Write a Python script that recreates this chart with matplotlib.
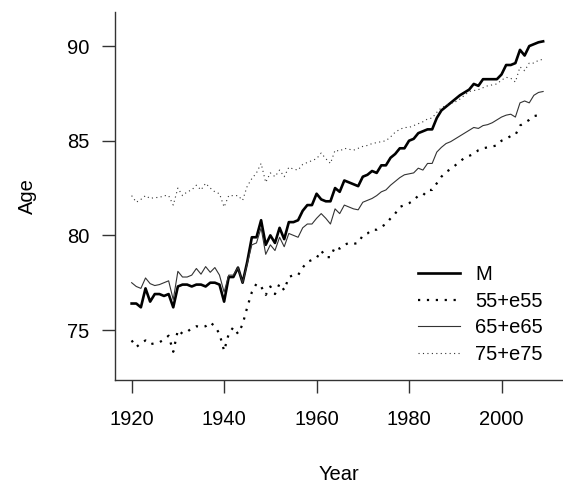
import matplotlib
matplotlib.use("Agg")
import matplotlib.pyplot as plt
import numpy as np

plt.rcParams['font.family'] = ['Liberation Sans', 'DejaVu Sans']

# data, 1920-2009
years = list(range(1920, 2010))

m_age = [76.4, 76.4, 76.2, 77.2, 76.5, 76.9, 76.9, 76.8, 76.9, 76.2,
         77.3, 77.4, 77.4, 77.3, 77.4, 77.4, 77.3, 77.5, 77.5, 77.4,
         76.5, 77.8, 77.8, 78.3, 77.5, 78.6, 79.9, 79.9, 80.8, 79.5,
         80.0, 79.6, 80.4, 79.8, 80.7, 80.7, 80.8, 81.3, 81.6, 81.6,
         82.2, 81.9, 81.8, 81.8, 82.5, 82.3, 82.9, 82.8, 82.7, 82.6,
         83.1, 83.2, 83.4, 83.3, 83.7, 83.7, 84.1, 84.3, 84.6, 84.6,
         85.0, 85.1, 85.4, 85.5, 85.6, 85.6, 86.2, 86.6, 86.8, 87.0,
         87.2, 87.4, 87.55, 87.7, 88.0, 87.9, 88.25, 88.25, 88.25, 88.25,
         88.5, 89.0, 89.0, 89.1, 89.8, 89.5, 90.0, 90.1, 90.2, 90.25]

e55 = [74.45, 74.1, 74.3, 74.45, 74.25, 74.3, 74.35, 74.5, 74.7, 73.85,
       75.0, 74.8, 74.9, 75.1, 75.2, 75.15, 75.2, 75.4, 75.2, 74.8,
       73.9, 74.8, 75.15, 74.8, 75.3, 76.2, 77.0, 77.45, 77.3, 76.85,
       77.3, 76.9, 77.45, 77.1, 77.8, 77.9, 77.9, 78.3, 78.6, 78.7,
       78.8, 79.2, 78.85, 78.85, 79.4, 79.3, 79.5, 79.6, 79.55, 79.6,
       80.0, 80.1, 80.3, 80.3, 80.45, 80.6, 80.9, 81.15, 81.5, 81.6,
       81.7, 81.85, 82.1, 82.1, 82.4, 82.4, 82.75, 83.1, 83.35, 83.5,
       83.7, 83.9, 84.1, 84.2, 84.3, 84.5, 84.6, 84.65, 84.7, 84.75,
       85.0, 85.1, 85.25, 85.3, 85.8, 85.95, 86.1, 86.3, 86.35, 86.4]

e65 = [77.5, 77.3, 77.2, 77.75, 77.45, 77.35, 77.4, 77.5, 77.6, 76.6,
       78.1, 77.8, 77.8, 77.9, 78.25, 77.95, 78.35, 78.05, 78.3, 77.9,
       77.0, 77.9, 77.9, 78.3, 77.5, 78.5, 79.5, 79.6, 80.4, 79.0,
       79.5, 79.2, 79.9, 79.4, 80.1, 80.0, 79.9, 80.4, 80.6, 80.6,
       80.9, 81.15, 80.9, 80.6, 81.4, 81.15, 81.6, 81.5, 81.4, 81.35,
       81.75, 81.85, 81.95, 82.1, 82.3, 82.4, 82.65, 82.85, 83.05, 83.2,
       83.25, 83.3, 83.55, 83.45, 83.8, 83.8, 84.4, 84.65, 84.85, 84.95,
       85.1, 85.25, 85.4, 85.55, 85.7, 85.65, 85.8, 85.85, 85.95, 86.1,
       86.25, 86.35, 86.4, 86.25, 87.0, 87.1, 87.0, 87.4, 87.55, 87.6]

e75 = [82.1, 81.75, 81.9, 82.1, 81.95, 82.0, 82.0, 82.1, 82.1, 81.6,
       82.5, 82.1, 82.3, 82.4, 82.65, 82.4, 82.75, 82.5, 82.3, 82.2,
       81.5, 82.1, 82.1, 82.1, 81.85, 82.6, 83.0, 83.3, 83.8, 82.8,
       83.3, 83.1, 83.45, 83.1, 83.6, 83.5, 83.45, 83.75, 83.85, 83.95,
       84.05, 84.35, 84.05, 83.8, 84.5, 84.45, 84.6, 84.55, 84.5, 84.6,
       84.7, 84.75, 84.85, 84.9, 84.95, 85.0, 85.2, 85.45, 85.6, 85.7,
       85.7, 85.8, 85.9, 86.0, 86.15, 86.2, 86.5, 86.75, 86.85, 86.95,
       87.05, 87.2, 87.4, 87.6, 87.65, 87.7, 87.8, 87.9, 87.95, 88.0,
       88.2, 88.35, 88.3, 88.1, 88.9, 88.7, 89.1, 89.1, 89.25, 89.3]

labels = ['M', '55+e55', '65+e65', '75+e75']
x_ticks = [1920, 1940, 1960, 1980, 2000]
y_ticks = [75, 80, 85, 90]

fs = 14.5

fig = plt.figure(figsize=(5.63, 4.87), dpi=100)
ax = fig.add_axes([115/563, 1 - 380/487, 448/563, 368/487])

ax.plot(years, m_age, color='black', lw=1.9, label=labels[0])
ax.plot(years, e55, color='black', lw=1.6, linestyle=(0, (1, 3)), label=labels[1])
ax.plot(years, e65, color='#333333', lw=0.8, label=labels[2])
ax.plot(years, e75, color='#333333', lw=0.8, linestyle=(0, (1, 3)), label=labels[3])

ax.set_xlim(1916.4, 2013.3)
ax.set_ylim(72.36, 91.8)
ax.set_xticks(x_ticks)
ax.set_yticks(y_ticks)
ax.spines['top'].set_visible(False)
ax.spines['right'].set_visible(False)
for s in ('left', 'bottom'):
    ax.spines[s].set_linewidth(1.0)
    ax.spines[s].set_color('#333333')
ax.tick_params(axis='both', length=9.4, width=1.0, color='#333333',
               labelsize=fs, colors='black')
ax.tick_params(axis='x', pad=12)
ax.tick_params(axis='y', pad=9)

ax.set_xlabel('Year', fontsize=fs)
ax.set_ylabel('Age', fontsize=fs)
ax.xaxis.set_label_coords(0.5, (380 - 475) / 368)
ax.yaxis.set_label_coords((27 - 115) / 448, 0.5)
ax.xaxis.label.set_va('center')
ax.yaxis.label.set_va('center')

ax.legend(loc='upper left', bbox_to_anchor=(418/563, 1 - 265/487),
          bbox_transform=fig.transFigure, frameon=False, fontsize=fs,
          borderpad=0, borderaxespad=0, handlelength=2.1,
          handletextpad=0.75, labelspacing=0.38)

fig.savefig('out.png', dpi=100)
